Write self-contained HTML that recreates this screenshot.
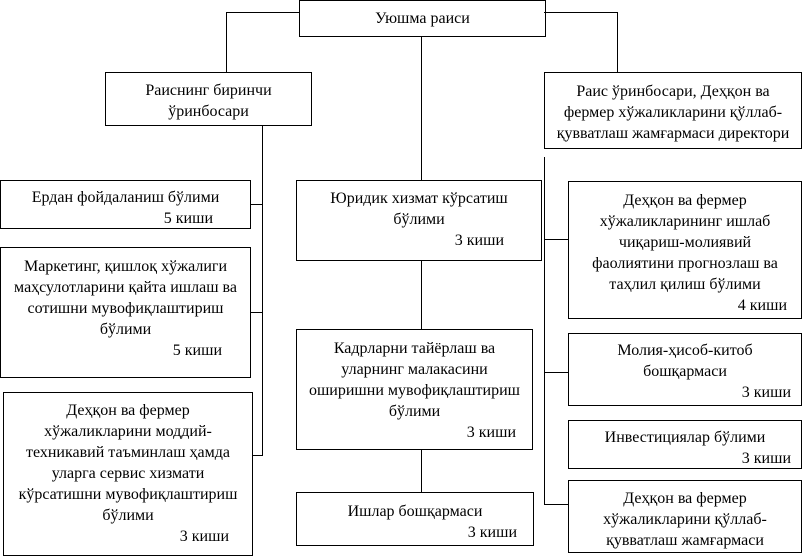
<!DOCTYPE html>
<html><head><meta charset="utf-8"><style>
body{margin:0;width:803px;height:558px;background:#fff;position:relative;overflow:hidden;font-family:"Liberation Serif","DejaVu Serif",serif;font-size:16px;color:#000}
.b{position:absolute;border:1px solid #000;box-sizing:border-box;line-height:21px;text-align:center;white-space:nowrap}
.k{text-align:right}
.l{position:absolute;background:#000}
</style></head><body>
<div class="l" style="left:226px;top:12px;width:74px;height:1px"></div>
<div class="l" style="left:226px;top:12px;width:1px;height:60px"></div>
<div class="l" style="left:544px;top:12px;width:74px;height:1px"></div>
<div class="l" style="left:617px;top:12px;width:1px;height:60px"></div>
<div class="l" style="left:421px;top:36px;width:1px;height:144px"></div>
<div class="l" style="left:421px;top:260px;width:1px;height:69px"></div>
<div class="l" style="left:421px;top:449px;width:1px;height:43px"></div>
<div class="l" style="left:262px;top:125px;width:1px;height:331px"></div>
<div class="l" style="left:250px;top:204px;width:12px;height:1px"></div>
<div class="l" style="left:250px;top:312px;width:12px;height:1px"></div>
<div class="l" style="left:252px;top:455px;width:10px;height:1px"></div>
<div class="l" style="left:544px;top:157px;width:1px;height:348px"></div>
<div class="l" style="left:544px;top:239px;width:24px;height:1px"></div>
<div class="l" style="left:544px;top:372px;width:24px;height:1px"></div>
<div class="l" style="left:544px;top:504px;width:24px;height:1px"></div>
<div class="b" style="left:299px;top:0;width:247px;height:37px;padding-top:7px">Уюшма раиси</div>
<div class="b" style="left:105px;top:72px;width:207px;height:54px;padding-top:7px">Раиснинг биринчи<br>ўринбосари</div>
<div class="b" style="left:544px;top:72px;width:258px;height:77px;padding-top:8px">Раис ўринбосари, Деҳқон ва<br>фермер хўжаликларини қўллаб-<br>қувватлаш жамғармаси директори</div>
<div class="b" style="left:0;top:180px;width:251px;height:49px;padding-top:6px">Ердан фойдаланиш бўлими<div class="k" style="padding-right:37px">5 киши</div></div>
<div class="b" style="left:0;top:247px;width:251px;height:131px;padding-top:8px">Маркетинг, қишлоқ хўжалиги<br>маҳсулотларини қайта ишлаш ва<br>сотишни мувофиқлаштириш<br>бўлими<div class="k" style="padding-right:28px">5 киши</div></div>
<div class="b" style="left:3px;top:392px;width:250px;height:164px;padding-top:7px">Деҳқон ва фермер<br>хўжаликларини моддий-<br>техникавий таъминлаш ҳамда<br>уларга сервис хизмати<br>кўрсатишни мувофиқлаштириш<br>бўлими<div class="k" style="padding-right:23px">3 киши</div></div>
<div class="b" style="left:296px;top:180px;width:246px;height:81px;padding-top:7px">Юридик хизмат кўрсатиш<br>бўлими<div class="k" style="padding-right:37px">3 киши</div></div>
<div class="b" style="left:296px;top:329px;width:237px;height:121px;padding-top:8px">Кадрларни тайёрлаш ва<br>уларнинг малакасини<br>оширишни мувофиқлаштириш<br>бўлими<div class="k" style="padding-right:16px">3 киши</div></div>
<div class="b" style="left:296px;top:492px;width:238px;height:54px;padding-top:8px">Ишлар бошқармаси<div class="k" style="padding-right:16px">3 киши</div></div>
<div class="b" style="left:568px;top:181px;width:234px;height:138px;padding-top:8px">Деҳқон ва фермер<br>хўжаликларининг ишлаб<br>чиқариш-молиявий<br>фаолиятини прогнозлаш ва<br>таҳлил қилиш бўлими<div class="k" style="padding-right:14px">4 киши</div></div>
<div class="b" style="left:568px;top:333px;width:234px;height:73px;padding-top:6px">Молия-ҳисоб-китоб<br>бошқармаси<div class="k" style="padding-right:10px">3 киши</div></div>
<div class="b" style="left:568px;top:420px;width:234px;height:49px;padding-top:6px">Инвестициялар бўлими<div class="k" style="padding-right:10px">3 киши</div></div>
<div class="b" style="left:568px;top:480px;width:234px;height:73px;padding-top:7px">Деҳқон ва фермер<br>хўжаликларини қўллаб-<br>қувватлаш жамғармаси</div>
</body></html>
